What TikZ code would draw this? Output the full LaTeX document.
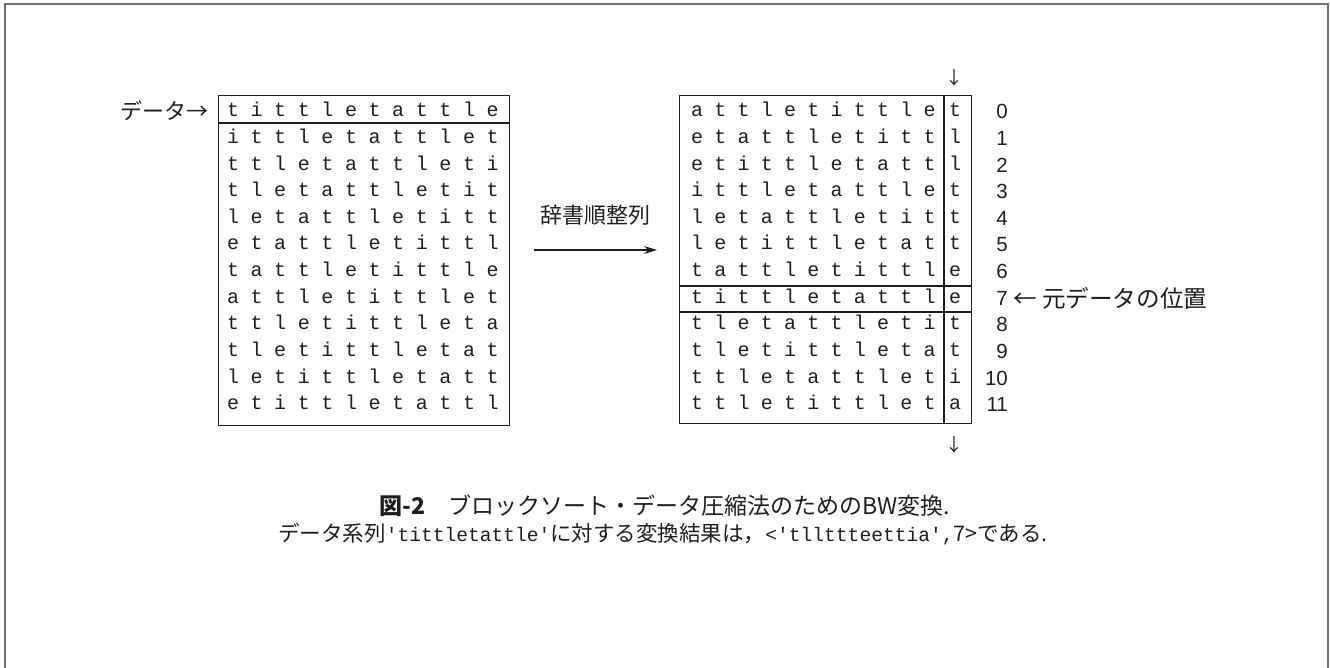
\documentclass[tikz,border=0pt]{standalone}
\usepackage{fontspec}
\setmainfont{Liberation Sans}
\setmonofont{Liberation Mono}
\newfontfamily\cjk{Noto Sans CJK JP}
\usetikzlibrary{arrows.meta}
\definecolor{ink}{HTML}{1E1E1E}
\definecolor{framegray}{HTML}{6E6E6E}
\tikzset{
  mono/.style={font=\ttfamily\fontsize{20}{20}\selectfont, inner sep=0pt, anchor=base, text=ink},
  num/.style={font=\fontsize{20.5}{20.5}\selectfont, inner sep=0pt, anchor=base east, text=ink},
  jlabel/.style={font=\cjk\fontsize{22}{22}\selectfont, inner sep=0pt, text=ink},
  boxline/.style={draw=ink, line width=1.3pt},
  captext/.style={font=\cjk\fontsize{21.5}{22}\selectfont, inner sep=0pt, anchor=base, text=ink},
  downglyph/.style={font=\cjk\fontsize{18}{18}\selectfont, inner sep=0pt, text=ink},
  mainarrow/.style={draw=ink, line width=1.4pt, -{Stealth[length=13pt, width=8pt]}},
}
\begin{document}
\begin{tikzpicture}[x=1pt,y=-1pt]
\useasboundingbox (0,0) rectangle (1330,668);
% frame
\draw[framegray, line width=2pt] (5,668) -- (5,4) -- (1328,4) -- (1328,668);

% left box
\node[boxline, minimum width=291pt, minimum height=330pt, inner sep=0pt, anchor=north west] (Lbox) at (218,95) {};
\draw[boxline] (Lbox.west |- 0,123) -- (Lbox.east |- 0,123);
\foreach \row [count=\r from 0] in {
  {t,i,t,t,l,e,t,a,t,t,l,e},
  {i,t,t,l,e,t,a,t,t,l,e,t},
  {t,t,l,e,t,a,t,t,l,e,t,i},
  {t,l,e,t,a,t,t,l,e,t,i,t},
  {l,e,t,a,t,t,l,e,t,i,t,t},
  {e,t,a,t,t,l,e,t,i,t,t,l},
  {t,a,t,t,l,e,t,i,t,t,l,e},
  {a,t,t,l,e,t,i,t,t,l,e,t},
  {t,t,l,e,t,i,t,t,l,e,t,a},
  {t,l,e,t,i,t,t,l,e,t,a,t},
  {l,e,t,i,t,t,l,e,t,a,t,t},
  {e,t,i,t,t,l,e,t,a,t,t,l}}{
  \foreach \ch [count=\c from 0] in \row {
    \node[mono] (L\r-\c) at ({233+23.6*\c},{117+26.6*\r}) {\ch};
  }
}
\node[jlabel, anchor=base east] (datalabel) at (209,120) {データ→};

% right box
\node[boxline, minimum width=292pt, minimum height=328pt, inner sep=0pt, anchor=north west] (Rbox) at (679,95) {};
\draw[boxline] (Rbox.north west -| 944,0) -- (Rbox.south west -| 944,0);
\draw[boxline] (Rbox.west |- 0,286) -- (Rbox.east |- 0,286);
\draw[boxline] (Rbox.west |- 0,312) -- (Rbox.east |- 0,312);
\foreach \row [count=\r from 0] in {
  {a,t,t,l,e,t,i,t,t,l,e,t},
  {e,t,a,t,t,l,e,t,i,t,t,l},
  {e,t,i,t,t,l,e,t,a,t,t,l},
  {i,t,t,l,e,t,a,t,t,l,e,t},
  {l,e,t,a,t,t,l,e,t,i,t,t},
  {l,e,t,i,t,t,l,e,t,a,t,t},
  {t,a,t,t,l,e,t,i,t,t,l,e},
  {t,i,t,t,l,e,t,a,t,t,l,e},
  {t,l,e,t,a,t,t,l,e,t,i,t},
  {t,l,e,t,i,t,t,l,e,t,a,t},
  {t,t,l,e,t,a,t,t,l,e,t,i},
  {t,t,l,e,t,i,t,t,l,e,t,a}}{
  \foreach \ch [count=\c from 0] in \row {
    \pgfmathsetmacro{\xx}{\c<11 ? 697+23.26*\c : 955}
    \node[mono] (R\r-\c) at ({\xx},{117+26.6*\r}) {\ch};
  }
}
\foreach \n in {0,...,11}{
  \node[num] (N\n) at (1008,{119+26.6*\n}) {\n};
}
\node[jlabel, font=\cjk\fontsize{23.6}{24}\selectfont, anchor=base west] (origlabel) at (1013,307) {← 元データの位置};
\node[downglyph] (downTop) at (954,78) {↓};
\node[downglyph] (downBot) at (954,445) {↓};

% sort arrow
\node[jlabel] (sortlabel) at (595,215) {辞書順整列};
\draw[mainarrow, shorten <=24pt, shorten >=22pt] (Lbox.east |- 0,250) -- (Rbox.west |- 0,250);

% caption
\node[captext, font=\cjk\fontsize{23}{23}\selectfont] (cap1) at (665,514) {{\bfseries 図-2}\hspace{1em}ブロックソート・データ圧縮法のためのBW変換.};
\node[captext] (cap2) at (663,541) {データ系列{\ttfamily\fontsize{19.6}{20}\selectfont 'tittletattle'}に対する変換結果は，{\ttfamily\fontsize{19.6}{20}\selectfont <'tllttteettia',}7>である.};
\end{tikzpicture}
\end{document}
